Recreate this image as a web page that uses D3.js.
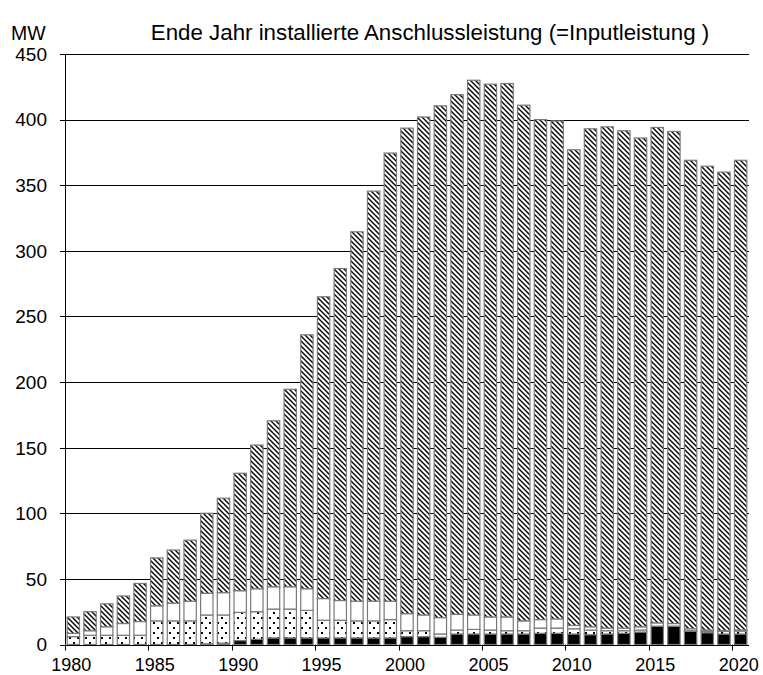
<!DOCTYPE html>
<html>
<head>
<meta charset="utf-8">
<script src="https://cdn.jsdelivr.net/npm/d3@7/dist/d3.min.js"></script>
<style>
  html, body { margin: 0; padding: 0; background: #fff; }
  svg { display: block; font-family: "Liberation Sans", Arial, sans-serif; }
</style>
</head>
<body>
<svg id="chart" width="763" height="675"></svg>
<script>
// Installed connected load at year end, MW, stacked by four groups
const years = d3.range(1980, 2021);

const schwarz = [0, 0, 0, 0, 0, 0, 0, 0, 0.5, 1,
  3, 4, 5, 5, 5, 5, 5, 5, 5, 5,
  6, 6, 5.5, 8, 8, 8, 8, 8, 8.5, 8.5,
  8, 7.5, 8, 8.5, 9.5, 14, 14, 10, 9, 8, 8];

const gepunktet = [6, 7, 7, 7, 7, 18, 18, 18, 22, 21.5,
  21.5, 21, 22, 22, 21, 13.5, 13.5, 13, 13, 14,
  4.5, 4.5, 2.5, 3, 3.5, 3, 2.5, 2.5, 4, 4,
  4, 3.5, 2.5, 2, 1.5, 0, 0, 0.5, 1, 2, 2.3];

const weiss = [2.5, 3.5, 6.5, 9, 10.5, 11.5, 13.5, 15, 16.5, 17,
  16.5, 17.5, 17, 17, 16.5, 16.5, 15, 15, 15, 14,
  13, 12, 12.5, 12, 11, 10, 10.5, 7.5, 6.5, 7,
  2.5, 2.5, 2, 2, 2.5, 2.5, 2, 1.5, 1, 0.5, 0.7];

const schraffiert = [12.5, 14.5, 17.5, 21, 29, 36.5, 40.5, 46.5, 61, 72,
  89.5, 109.5, 126.5, 150.5, 193.5, 230, 253, 281.5, 312.5, 341.5,
  370, 379.5, 390, 396, 407.5, 406, 406.5, 393, 381, 379.5,
  362.5, 379.5, 382, 379, 372.5, 377.5, 375, 357, 353.5, 349.5, 358];

const yTicks = [0, 50, 100, 150, 200, 250, 300, 350, 400, 450];
const xTickYears = [1980, 1985, 1990, 1995, 2000, 2005, 2010, 2015, 2020];

const titleText = "Ende Jahr installierte Anschlussleistung (=Inputleistung )";
const unitText = "MW";

const keys = ["schwarz", "gepunktet", "weiss", "schraffiert"];
const table = years.map((yr, i) => ({
  year: yr,
  schwarz: schwarz[i],
  gepunktet: gepunktet[i],
  weiss: weiss[i],
  schraffiert: schraffiert[i]
}));

const svg = d3.select("#chart");
const plotLeft = 65, plotRight = 749, plotTop = 54, plotBottom = 644.5;

const x = d3.scaleBand().domain(years).range([plotLeft, plotRight])
  .paddingInner(0.26).paddingOuter(0.13);
const y = d3.scaleLinear().domain([0, 450]).range([plotBottom, plotTop]);

// fill patterns
const defs = svg.append("defs");
const hatch = defs.append("pattern").attr("id", "hatch")
  .attr("patternUnits", "userSpaceOnUse").attr("width", 5).attr("height", 5);
hatch.append("rect").attr("width", 5).attr("height", 5).attr("fill", "#fff");
hatch.append("path")
  .attr("d", "M0,0L5,5M-1,4L1,6M4,-1L6,1")
  .attr("stroke", "#000").attr("stroke-width", 1.4);

const dots = defs.append("pattern").attr("id", "dots")
  .attr("patternUnits", "userSpaceOnUse").attr("width", 8).attr("height", 10);
dots.append("rect").attr("width", 8).attr("height", 10).attr("fill", "#fff");
dots.append("rect").attr("x", 1).attr("y", 2).attr("width", 2).attr("height", 2).attr("fill", "#000");
dots.append("rect").attr("x", 5).attr("y", 7).attr("width", 2).attr("height", 2).attr("fill", "#000");

const fills = {
  schwarz: "#000",
  gepunktet: "url(#dots)",
  weiss: "#fff",
  schraffiert: "url(#hatch)"
};

// gridlines
svg.append("g").selectAll("line").data(yTicks.filter(d => d > 0)).join("line")
  .attr("x1", plotLeft).attr("x2", plotRight)
  .attr("y1", d => Math.round(y(d)) + 0.5).attr("y2", d => Math.round(y(d)) + 0.5)
  .attr("stroke", "#000").attr("stroke-width", 1);

// stacked bars
const series = d3.stack().keys(keys)(table);
svg.append("g").selectAll("g").data(series).join("g")
  .attr("fill", d => fills[d.key])
  .selectAll("rect").data(d => d).join("rect")
  .attr("x", d => x(d.data.year))
  .attr("width", x.bandwidth())
  .attr("y", d => y(d[1]))
  .attr("height", d => Math.max(0, y(d[0]) - y(d[1])))
  .attr("stroke", "#7a7a7a").attr("stroke-width", 1.2);

// y axis
const yAxis = svg.append("g");
yAxis.append("line").attr("x1", plotLeft + 0.5).attr("x2", plotLeft + 0.5)
  .attr("y1", plotTop).attr("y2", plotBottom).attr("stroke", "#000");
yAxis.selectAll("line.tk").data(yTicks).join("line").attr("class", "tk")
  .attr("x1", plotLeft - 5).attr("x2", plotLeft)
  .attr("y1", d => Math.round(y(d)) + 0.5).attr("y2", d => Math.round(y(d)) + 0.5)
  .attr("stroke", "#000");
yAxis.selectAll("text").data(yTicks).join("text")
  .attr("x", 47).attr("y", d => y(d)).attr("dy", "0.36em")
  .attr("text-anchor", "end").attr("font-size", 19).attr("fill", "#000")
  .text(d => d);

// x axis
const gap = x.step() - x.bandwidth();
const xAxis = svg.append("g");
xAxis.append("line").attr("x1", plotLeft).attr("x2", plotRight)
  .attr("y1", Math.round(plotBottom) + 0.5).attr("y2", Math.round(plotBottom) + 0.5)
  .attr("stroke", "#000");
xAxis.selectAll("line.tk").data(xTickYears).join("line").attr("class", "tk")
  .attr("x1", d => Math.round(x(d) - gap / 2) + 0.5)
  .attr("x2", d => Math.round(x(d) - gap / 2) + 0.5)
  .attr("y1", plotBottom).attr("y2", plotBottom + 6)
  .attr("stroke", "#000");
xAxis.selectAll("text").data(xTickYears).join("text")
  .attr("x", d => x(d) + x.bandwidth() / 2 - 2).attr("y", 670.5)
  .attr("text-anchor", "middle").attr("font-size", 18).attr("fill", "#000")
  .text(d => d);

// title and unit
svg.append("text").attr("x", 11).attr("y", 40)
  .attr("font-size", 19.5).attr("fill", "#000").text(unitText);
svg.append("text").attr("x", 430).attr("y", 40)
  .attr("text-anchor", "middle").attr("font-size", 22.3).attr("fill", "#000")
  .text(titleText);
</script>
</body>
</html>
